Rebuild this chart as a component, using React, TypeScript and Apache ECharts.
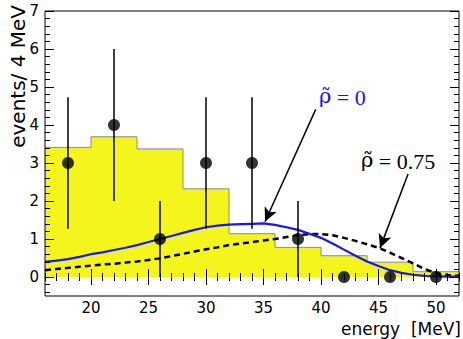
import React, { useEffect, useRef } from "react";
import * as echarts from "echarts";

const binEdges = [16, 20, 24, 28, 32, 36, 40, 44, 48, 52];
const bgCounts = [3.41, 3.69, 3.37, 2.32, 1.14, 0.78, 0.56, 0.39, 0.14];

const dataX = [18, 22, 26, 30, 34, 38, 42, 46, 50];
const dataY = [3, 4, 1, 3, 3, 1, 0, 0, 0];
const errLo = [1.27, 2.0, 0, 1.27, 1.27, 0, 0, 0, 0];
const errHi = [4.73, 6.0, 2.0, 4.73, 4.73, 2.0, 0, 0, 0];

const curveX = [16, 17, 18, 19, 20, 21, 22, 23, 24, 25, 26, 27, 28, 29, 30, 31, 32, 33, 34, 35, 36, 37, 38, 39, 40, 41, 42, 43, 44, 45, 46, 47, 48, 49, 50, 51, 52];
const rho0 = [0.4, 0.43, 0.47, 0.53, 0.6, 0.65, 0.71, 0.77, 0.84, 0.92, 1.0, 1.08, 1.16, 1.24, 1.31, 1.35, 1.38, 1.39, 1.4, 1.41, 1.37, 1.31, 1.24, 1.14, 1.03, 0.88, 0.72, 0.56, 0.41, 0.29, 0.18, 0.11, 0.06, 0.03, 0.02, 0.01, 0.01];
const rho075 = [0.18, 0.21, 0.24, 0.27, 0.3, 0.33, 0.35, 0.38, 0.41, 0.45, 0.49, 0.55, 0.61, 0.67, 0.73, 0.78, 0.84, 0.88, 0.92, 0.96, 1.0, 1.05, 1.1, 1.13, 1.13, 1.1, 1.03, 0.95, 0.86, 0.77, 0.64, 0.5, 0.36, 0.21, 0.1, 0.05, 0.03];

const xMajor = [20, 25, 30, 35, 40, 45, 50];
const xMinor = [16, 17, 18, 19, 21, 22, 23, 24, 26, 27, 28, 29, 31, 32, 33, 34, 36, 37, 38, 39, 41, 42, 43, 44, 46, 47, 48, 49, 51, 52];
const yMajor = [0, 1, 2, 3, 4, 5, 6, 7];
const yMinor = [-0.4, -0.2, 0.2, 0.4, 0.6, 0.8, 1.2, 1.4, 1.6, 1.8, 2.2, 2.4, 2.6, 2.8, 3.2, 3.4, 3.6, 3.8, 4.2, 4.4, 4.6, 4.8, 5.2, 5.4, 5.6, 5.8, 6.2, 6.4, 6.6, 6.8];

const arrow0 = [[39.54, 4.41], [35.13, 1.455]];
const arrow075 = [[47.57, 2.71], [45.13, 0.76]];

const AXF = "DejaVu Sans";

function xAx(pos: string, values: number[], len: number, labels: boolean) {
  return {
    type: "value",
    min: 16,
    max: 52,
    position: pos,
    z: 10,
    axisLine: { show: false },
    splitLine: { show: false },
    axisTick: { show: true, inside: true, length: len, customValues: values, lineStyle: { color: "#000", width: 1 } },
    axisLabel: labels
      ? { show: true, customValues: xMajor, color: "#000", fontFamily: AXF, fontSize: 15, margin: 4 }
      : { show: false },
  };
}
function yAx(pos: string, values: number[], len: number, labels: boolean) {
  return {
    type: "value",
    min: -0.5,
    max: 7,
    position: pos,
    z: 10,
    axisLine: { show: false },
    splitLine: { show: false },
    axisTick: { show: true, inside: true, length: len, customValues: values, lineStyle: { color: "#000", width: 1 } },
    axisLabel: labels
      ? { show: true, customValues: yMajor, color: "#000", fontFamily: AXF, fontSize: 15, margin: 6 }
      : { show: false },
  };
}

function rhoLabel(x: number, y: number, value: string, color: string) {
  return {
    type: "text",
    x,
    y,
    style: {
      text: "{r|ρ̃}{t| = " + value + "}",
      align: "left",
      verticalAlign: "middle",
      fill: color,
      rich: {
        r: { fontFamily: "DejaVu Serif", fontSize: 21, fill: color, padding: [0, 0, 2, 0] },
        t: { fontFamily: "Liberation Serif", fontSize: 22, fill: color },
      },
    },
  };
}

export default function App() {
  const ref = useRef<HTMLDivElement>(null);
  useEffect(() => {
    if (!ref.current) return;
    const chart = echarts.init(ref.current, null, { renderer: "svg" });
    const histData = binEdges.map((x, i) => [x, bgCounts[Math.min(i, bgCounts.length - 1)]]);
    chart.setOption({
      animation: false,
      backgroundColor: "#fff",
      grid: { left: 45, top: 11, width: 414, height: 285, show: true, borderColor: "#000", borderWidth: 1, backgroundColor: "transparent", z: 10 },
      xAxis: [xAx("bottom", xMajor, 8, true), xAx("bottom", xMinor, 4, false), xAx("top", xMajor, 8, false), xAx("top", xMinor, 4, false)],
      yAxis: [yAx("left", yMajor, 9, true), yAx("left", yMinor, 5, false), yAx("right", yMajor, 9, false), yAx("right", yMinor, 5, false)],
      series: [
        {
          type: "line",
          data: histData,
          step: "end",
          symbol: "none",
          lineStyle: { color: "#8a8a8a", width: 1 },
          areaStyle: { color: "#f5f51e", opacity: 1 },
          z: 1,
        },
        {
          type: "line",
          data: curveX.map((x, i) => [x, rho075[i]]),
          symbol: "none",
          lineStyle: { color: "#000", width: 2.5, type: [6, 4] },
          z: 3,
        },
        {
          type: "line",
          data: curveX.map((x, i) => [x, rho0[i]]),
          symbol: "none",
          lineStyle: { color: "#1414ff", width: 2.2 },
          z: 4,
          markLine: {
            silent: true,
            symbol: ["none", "arrow"],
            symbolSize: [10, 14],
            label: { show: false },
            lineStyle: { color: "#000", width: 1.5, type: "solid" },
            data: [
              [{ coord: arrow0[0] }, { coord: arrow0[1] }],
              [{ coord: arrow075[0] }, { coord: arrow075[1] }],
            ],
          },
        },
        {
          type: "custom",
          data: dataX.map((x, i) => [x, errLo[i], errHi[i]]),
          encode: { x: 0, y: [1, 2] },
          renderItem: (params: any, api: any) => {
            const x = api.value(0);
            const p1 = api.coord([x, api.value(1)]);
            const p2 = api.coord([x, api.value(2)]);
            return {
              type: "line",
              shape: { x1: p1[0], y1: p1[1], x2: p2[0], y2: p2[1] },
              style: { stroke: "#000", lineWidth: 1.5 },
            };
          },
          z: 5,
        },
        {
          type: "scatter",
          data: dataX.map((x, i) => [x, dataY[i]]),
          symbol: "circle",
          symbolSize: 12,
          itemStyle: { color: "#000" },
          z: 6,
        },
      ],
      graphic: [
        {
          type: "text",
          x: 18,
          y: 5,
          rotation: Math.PI / 2,
          style: { text: "events/ 4 MeV", align: "right", verticalAlign: "middle", fontFamily: AXF, fontSize: 20, fill: "#000" },
        },
        {
          type: "text",
          x: 461,
          y: 329,
          style: { text: "energy  [MeV]", align: "right", verticalAlign: "middle", fontFamily: AXF, fontSize: 17, fill: "#000" },
        },
        rhoLabel(319, 97, "0", "#1414ff"),
        rhoLabel(361, 161, "0.75", "#000"),
      ],
    });
    return () => chart.dispose();
  }, []);
  return <div ref={ref} style={{ position: "fixed", left: 0, top: 0, width: 463, height: 339 }} />;
}
